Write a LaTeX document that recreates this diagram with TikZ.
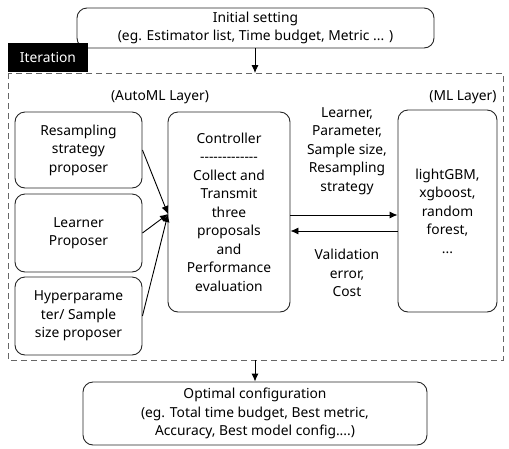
\documentclass[tikz,border=0pt]{standalone}
\usepackage{fontspec}
\setmainfont{Noto Sans}
\usetikzlibrary{arrows.meta,calc}
\tikzset{
  box/.style={draw=black!85, line width=0.9pt, rounded corners=10pt, align=center, inner sep=0pt},
  txt/.style={align=center, inner sep=0pt},
  arr/.style={-{Latex[length=8pt,width=7pt]}, line width=0.9pt},
  frame/.style={draw=black!60, line width=1pt, dash pattern=on 6pt off 4pt},
}
\newcommand{\dashline}{-{}-{}-{}-{}-{}-{}-{}-{}-{}-{}-{}-{}-}
\begin{document}
\begin{tikzpicture}[x=1pt,y=-1pt,font=\fontsize{13.8}{18.5}\selectfont]
\useasboundingbox (0,0) rectangle (509,448);
\node[box, minimum width=357pt, minimum height=40pt] (init) at (255.5,28) {Initial setting\\(eg. Estimator list, Time budget, Metric ... )};
\draw[frame] (8,73) rectangle (503,360);
\node[fill=black, text=white, minimum width=80pt, minimum height=29pt, inner sep=0pt] (iter) at (48,57.5) {Iteration};
\coordinate (ftop) at (255,73);
\coordinate (fbot) at (255,360);
\node[txt] (auto) at (160,97) {(AutoML Layer)};
\node[txt] (mll) at (463,97) {(ML Layer)};
\node[box, minimum width=127pt, minimum height=76pt] (res) at (78.5,150) {Resampling\\strategy\\proposer};
\node[box, minimum width=127pt, minimum height=78pt] (lrn) at (78.5,233) {Learner\\Proposer};
\node[box, minimum width=127pt, minimum height=78pt] (hyp) at (78.5,316) {Hyperparame\\ter/ Sample\\size proposer};
\node[box, minimum width=122pt, minimum height=200pt] (ctrl) at (229,212) {Controller\\\dashline\\Collect and\\Transmit\\three\\proposals\\and\\Performance\\evaluation};
\node[box, minimum width=99pt, minimum height=202pt] (ml) at (447.5,211) {lightGBM,\\xgboost,\\random\\forest,\\...};
\node[box, minimum width=344pt, minimum height=63pt] (opt) at (255,413.5) {Optimal configuration\\(eg. Total time budget, Best metric,\\Accuracy, Best model config....)};
\node[txt] (sendl) at (347,151) {Learner,\\Parameter,\\Sample size,\\Resampling\\strategy};
\node[txt] (recvl) at (347,273) {Validation\\error,\\Cost};
\coordinate (conv) at (168,214);
\coordinate (ya) at (0,215);
\coordinate (yb) at (0,231);
\draw[arr] (init.south -| ftop) -- (ftop);
\draw[arr] (fbot) -- (opt.north -| fbot);
\draw[arr] (res.east) -- (conv);
\draw[arr] (lrn.east) -- (conv);
\draw[arr] (hyp.east) -- (conv);
\draw[arr] (ctrl.east |- ya) -- (ml.west |- ya);
\draw[arr] (ml.west |- yb) -- (ctrl.east |- yb);
\end{tikzpicture}
\end{document}
